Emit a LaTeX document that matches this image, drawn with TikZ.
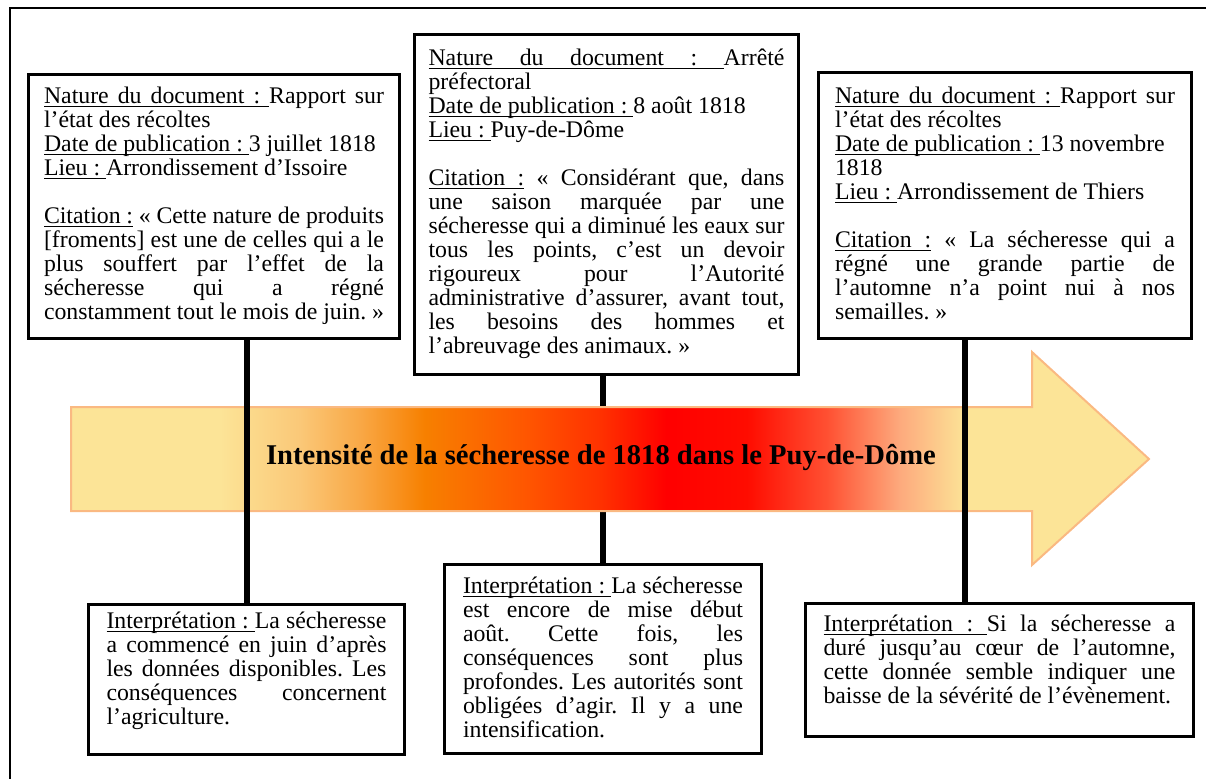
\documentclass[tikz,border=0pt]{standalone}
\usepackage{fontspec}
\setmainfont{Liberation Serif}
\definecolor{pale}{RGB}{252,228,151}
\definecolor{rim}{RGB}{250,185,130}
\definecolor{sand}{RGB}{250,200,120}
\definecolor{amber}{RGB}{249,168,70}
\definecolor{tangerine}{RGB}{247,128,0}
\definecolor{flame}{RGB}{255,85,0}
\definecolor{scarlet}{RGB}{255,50,0}
\definecolor{blaze}{RGB}{255,12,0}
\definecolor{coral}{RGB}{255,80,50}
\definecolor{peach}{RGB}{253,170,125}
\pgfdeclarehorizontalshading{drought}{100bp}{color(0bp)=(pale); color(31.9bp)=(pale);
  color(35.6bp)=(sand); color(38.4bp)=(amber); color(41.4bp)=(tangerine);
  color(46.2bp)=(flame); color(49.5bp)=(scarlet); color(52.6bp)=(red);
  color(56.35bp)=(blaze); color(60.06bp)=(coral); color(63.45bp)=(peach);
  color(66.5bp)=(pale); color(100bp)=(pale)}
\newcommand\jl[1]{\makebox[\linewidth][s]{#1}}
\newcommand\uw[1]{\leavevmode\setbox0\hbox{#1}\rlap{\vrule height -1.2pt depth 1.8pt width \wd0}\box0}
\newcommand\usp{\leaders\hrule height -1.2pt depth 1.8pt\hskip 0.25em plus 0.125em minus 0.083em\relax}
\newcommand\nat{\uw{Nature}\usp\uw{du}\usp\uw{document}\usp\uw{:}\usp}
\newcommand\dat{\uw{Date}\usp\uw{de}\usp\uw{publication}\usp\uw{:}\usp}
\newcommand\lie{\uw{Lieu}\usp\uw{:}\usp}
\newcommand\cit{\uw{Citation}\usp\uw{:}}
\newcommand\itp{\uw{Interprétation}\usp\uw{:}\usp}

\begin{document}
\begin{tikzpicture}
      [x=0.5pt, y=-0.5pt,
      docbox/.style={draw, line width=1.5pt, fill=white, anchor=north west,
        align=left, inner ysep=5pt, font=\fontsize{11.9pt}{12pt}\selectfont,
        execute at begin node={\spaceskip=0pt\xspaceskip=0pt\frenchspacing}},
      stem/.style={line width=3pt}]

      \useasboundingbox (0,0) rectangle (1206,778);
      \draw[line width=1.2pt] (10,800) -- (10,8) -- (1220,8);

      \node[docbox, text width=170pt, inner xsep=7.75pt, text height=9.5pt, text depth=112.5pt] (tl) at (27,73)
        {\jl{\nat Rapport sur}\\
         l’état des récoltes\\
         \dat 3 juillet 1818\\
         \lie Arrondissement d’Issoire\\[12pt]
         \jl{\cit{} «~Cette nature de produits}\\
         \jl{[froments] est une de celles qui a le}\\
         \jl{plus souffert par l’effet de la}\\
         \jl{sécheresse qui a régné}\\
         constamment tout le mois de juin.~»};
      \node[docbox, text width=178pt, inner xsep=7pt, text height=10.5pt, text depth=149.5pt] (tm) at (413,33)
        {\jl{\nat Arrêté}\\
         préfectoral\\
         \dat 8 août 1818\\
         \lie Puy-de-Dôme\\[12pt]
         \jl{\cit{} «~Considérant que, dans}\\
         \jl{une saison marquée par une}\\
         \jl{sécheresse qui a diminué les eaux sur}\\
         \jl{tous les points, c’est un devoir}\\
         \jl{rigoureux pour l’Autorité}\\
         \jl{administrative d’assurer, avant tout,}\\
         \jl{les besoins des hommes et}\\
         l’abreuvage des animaux.~»};
      \node[docbox, text width=170pt, inner xsep=8.25pt, text height=10.5pt, text depth=112.5pt] (tr) at (817,71)
        {\jl{\nat Rapport sur}\\
         l’état des récoltes\\
         \dat 13 novembre\\
         1818\\
         \lie Arrondissement de Thiers\\[12pt]
         \jl{\cit{} «~La sécheresse qui a}\\
         \jl{régné une grande partie de}\\
         \jl{l’automne n’a point nui à nos}\\
         semailles.~»};

      \node[docbox, text width=140pt, inner xsep=9pt, text height=7pt, text depth=58pt] (bl) at (87,603)
        {\jl{\itp La sécheresse}\\
         \jl{a commencé en juin d’après}\\
         \jl{les données disponibles. Les}\\
         \jl{conséquences concernent}\\
         l’agriculture.};
      \node[docbox, text width=140pt, inner xsep=9.25pt, text height=9.5pt, text depth=75pt] (bm) at (443,563)
        {\jl{\itp La sécheresse}\\
         \jl{est encore de mise début}\\
         \jl{août. Cette fois, les}\\
         \jl{conséquences sont plus}\\
         \jl{profondes. Les autorités sont}\\
         \jl{obligées d’agir. Il y a une}\\
         intensification.};
      \node[docbox, text width=176pt, inner xsep=9pt, text height=9pt, text depth=47.5pt] (br) at (804,602)
        {\jl{\itp Si la sécheresse a}\\
         \jl{duré jusqu’au cœur de l’automne,}\\
         \jl{cette donnée semble indiquer une}\\
         baisse de la sévérité de l’évènement.};

      \draw[stem] (bm.north) -- (bm.north |- tm.south);

      \shadedraw[shading=drought, draw=rim, line width=1pt]
        (71,407) -- (1032,407) -- (1032,352) -- (1149,459) -- (1032,565) -- (1032,511) -- (71,511) -- cycle;
      \node[font=\bfseries\fontsize{14.3pt}{16pt}\selectfont] (title) at (601,457)
        {Intensité de la sécheresse de 1818 dans le Puy-de-Dôme};

      \draw[stem] (bl.north) -- (bl.north |- tl.south);
      \draw[stem] ([xshift=-20.25pt]tr.south) -- ([xshift=-20.25pt]tr.south |- br.north);
    \end{tikzpicture}
\end{document}
